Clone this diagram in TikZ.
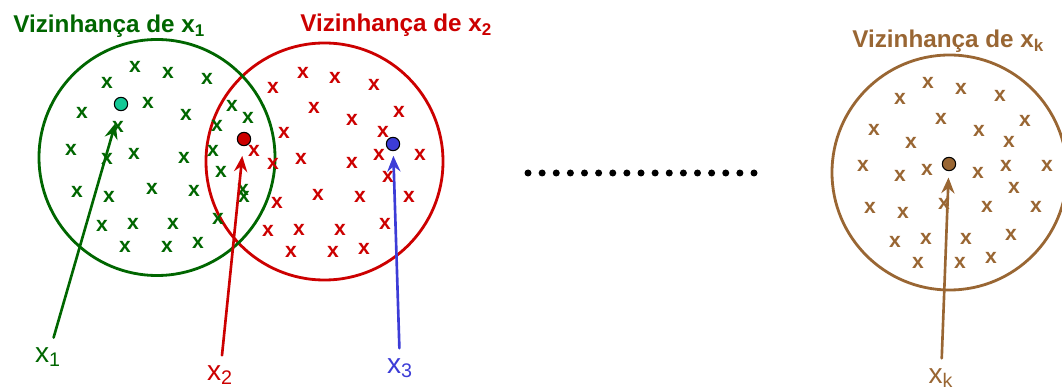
\documentclass[tikz,border=0pt]{standalone}
\usepackage{fontspec}
\setmainfont{Liberation Sans}
\usetikzlibrary{arrows.meta}
\definecolor{verde}{RGB}{0,102,0}
\definecolor{vermelho}{RGB}{204,0,0}
\definecolor{azul}{RGB}{60,60,215}
\definecolor{marrom}{RGB}{153,102,51}
\definecolor{turquesa}{RGB}{20,200,150}
\begin{document}
\begin{tikzpicture}[x=0.02cm, y=-0.02cm, line join=round, line cap=round,
	>={Stealth[length=9pt,width=7.5pt,inset=3pt]},
	marca/.style={font=\fontsize{12}{12}\selectfont\bfseries, inner sep=0pt},
	titulo/.style={font=\fontsize{13.8}{14}\selectfont\bfseries, anchor=base west, inner sep=0pt},
	rotulo/.style={font=\fontsize{16}{16}\selectfont, inner sep=1pt},
	ponto/.style={circle, draw=black, line width=0.6pt, minimum size=7.6pt, inner sep=0pt},
	viz/.style={line width=1.6pt},
	seta/.style={->, line width=1.5pt, shorten <=4.5pt}]
	\useasboundingbox (0,0) rectangle (1062,388);
	% vizinhancas
	\draw[viz, vermelho] (324.5,161.5) circle (118.5);
	\draw[viz, verde] (157,157.5) circle (118);
	\draw[viz, marrom] (949.5,172.5) circle (117.5);
	\node[titulo, verde] (t1) at (13,33) {Vizinhança de x\textsubscript{1}};
	\node[titulo, vermelho] (t2) at (300,32) {Vizinhança de x\textsubscript{2}};
	\node[titulo, marrom] (tk) at (852,48) {Vizinhança de x\textsubscript{k}};
	% pontos
	\foreach \p [count=\i] in {(135,67),(107,83),(168,73),(207,79),(82,113),(148,103),(186,115),(232,106),
		(248,118),(217,126),(118,127),(71,150),(107,159),(134,154),(184,158),(213,151),(221,172),(77,192),
		(109,197),(152,189),(194,191),(243,190),(244,197),(102,226),(133,224),(173,224),(218,219),(125,247),
		(167,247),(198,243)}
		\node[marca, verde] (g\i) at \p {x};
	\foreach \p [count=\i] in {(303,73),(335,78),(374,85),(273,88),(314,108),(399,112),(352,120),(284,133),
		(383,132),(254,151),(301,159),(273,164),(352,163),(379,155),(420,155),(388,177),(277,203),(318,195),
		(360,197),(409,197),(268,231),(299,230),(340,230),(385,224),(291,252),(333,252),(364,249)}
		\node[marca, vermelho] (r\i) at \p {x};
	\foreach \p [count=\i] in {(928,83),(961,89),(1000,96),(900,99),(941,119),(1025,121),(874,130),(979,131),
		(911,143),(1009,142),(863,166),(927,170),(900,176),(978,173),(1006,166),(1047,166),(1014,188),(944,204),
		(870,208),(903,213),(987,207),(1036,207),(895,242),(926,239),(966,239),(1011,235),(918,263),(960,263),
		(991,258)}
		\node[marca, marrom] (m\i) at \p {x};
	\node[ponto, fill=turquesa] (p1) at (121,104) {};
	\node[ponto, fill=vermelho] (p2) at (244,139) {};
	\node[ponto, fill=azul] (p3) at (393,144) {};
	\node[ponto, fill=marrom] (pk) at (949,164) {};
	% rotulos
	\node[rotulo, verde] (l1) at (48,357) {x\textsubscript{1}};
	\node[rotulo, vermelho] (l2) at (220,375) {x\textsubscript{2}};
	\node[rotulo, azul] (l3) at (400,368) {x\textsubscript{3}};
	\node[rotulo, marrom] (lk) at (941,378) {x\textsubscript{k}};
	\draw[seta, verde, shorten >=7.2pt] (l1) -- (p1);
	\draw[seta, vermelho, shorten >=5.6pt] (l2) -- (p2);
	\draw[seta, azul, shorten >=2.6pt] (l3) -- (p3);
	\draw[seta, marrom, shorten >=3.6pt] (lk) -- (pk);
	% reticencias
	\foreach \i in {0,...,16}
		\fill (528+\i*14.125,173) circle (3.5);
\end{tikzpicture}
\end{document}
